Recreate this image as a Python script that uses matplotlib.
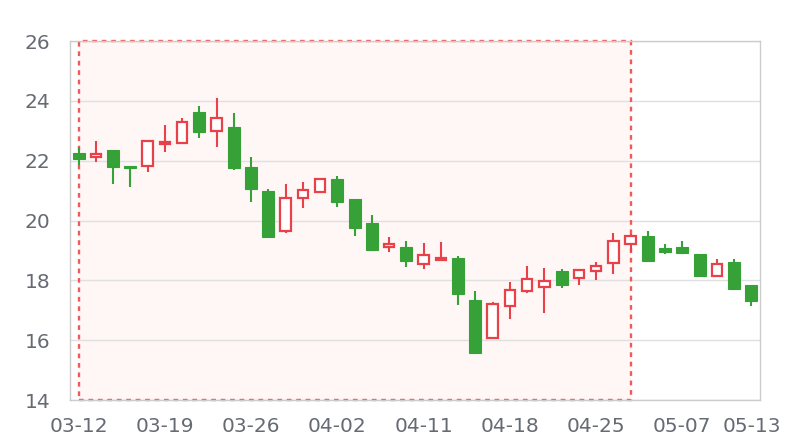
import matplotlib
matplotlib.use('Agg')
import matplotlib.pyplot as plt
from matplotlib.patches import Rectangle

# trading days (MM-DD)
dates = ['03-12', '03-13', '03-14', '03-15', '03-18', '03-19', '03-20', '03-21',
         '03-22', '03-25', '03-26', '03-27', '03-28', '03-29', '04-01', '04-02',
         '04-03', '04-04', '04-08', '04-10', '04-11', '04-12', '04-15', '04-16',
         '04-17', '04-18', '04-19', '04-22', '04-23', '04-24', '04-25', '04-26',
         '04-29', '04-30', '05-06', '05-07', '05-08', '05-09', '05-10', '05-13']

opens = [22.26, 22.13, 22.36, 21.81, 21.82, 22.56, 22.58, 23.62, 23.00, 23.14,
         21.78, 20.99, 19.65, 20.74, 20.94, 21.39, 20.72, 19.91, 19.13, 19.10,
         18.55, 18.69, 18.74, 17.34, 16.06, 17.14, 17.64, 17.79, 18.32, 18.07,
         18.31, 18.57, 19.20, 19.49, 19.09, 19.12, 18.87, 18.16, 18.62, 17.85]
closes = [22.06, 22.21, 21.80, 21.76, 22.66, 22.62, 23.30, 22.95, 23.44, 21.77,
          21.04, 19.46, 20.76, 21.02, 21.38, 20.61, 19.76, 19.02, 19.22, 18.66,
          18.86, 18.73, 17.54, 15.58, 17.20, 17.67, 18.06, 17.98, 17.85, 18.35,
          18.48, 19.33, 19.49, 18.66, 18.94, 18.93, 18.15, 18.54, 17.71, 17.31]
highs = [22.46, 22.67, 22.36, 21.81, 22.66, 23.19, 23.44, 23.84, 24.08, 23.58,
         22.13, 21.04, 21.21, 21.28, 21.41, 21.50, 20.72, 20.18, 19.44, 19.33,
         19.26, 19.27, 18.82, 17.65, 17.29, 17.96, 18.49, 18.42, 18.37, 18.35,
         18.60, 19.57, 19.55, 19.65, 19.20, 19.32, 18.87, 18.70, 18.70, 17.85]
lows = [21.86, 21.97, 21.21, 21.13, 21.63, 22.30, 22.58, 22.77, 22.47, 21.69,
        20.61, 19.46, 19.57, 20.43, 20.91, 20.46, 19.48, 19.02, 18.94, 18.44,
        18.38, 18.68, 17.18, 15.53, 16.03, 16.70, 17.57, 16.92, 17.73, 17.85,
        18.01, 18.21, 18.96, 18.62, 18.88, 18.90, 18.12, 18.16, 17.68, 17.15]

tick_idx = [0, 5, 10, 15, 20, 25, 30, 35, 39]
area_start, area_end = '03-12', '04-29'

up_color = '#e8414a'
down_color = '#36a136'
text_color = '#666a73'

fig = plt.figure(figsize=(8, 4.4), dpi=100)
ax = fig.add_axes([0.0875, 0.0909, 0.8625, 0.8159])

# highlighted area: fill under the grid, dashed border on top
x0 = dates.index(area_start)
x1 = dates.index(area_end)
ax.add_patch(Rectangle((x0, 14), x1 - x0, 12, facecolor='#fff6f6',
                       edgecolor='none', zorder=0.2))
ax.add_patch(Rectangle((x0, 14), x1 - x0, 12, facecolor='none',
                       edgecolor='#f05a5a', linestyle=(0, (2, 2)), linewidth=1.7,
                       zorder=1.5, clip_on=False))

for i in range(len(dates)):
    o, c, h, l = opens[i], closes[i], highs[i], lows[i]
    up = c > o
    col = up_color if up else down_color
    ax.vlines(i, l, h, color=col, linewidth=1.5, zorder=2)
    bottom = min(o, c)
    height = max(abs(c - o), 0.02)
    if up:
        ax.bar(i, height, bottom=bottom, width=0.62, facecolor='white',
               edgecolor=col, linewidth=1.6, zorder=3)
    else:
        ax.bar(i, height, bottom=bottom, width=0.7, facecolor=col,
               edgecolor=col, linewidth=0.8, zorder=3)

ax.set_xlim(-0.5, len(dates) - 0.5)
ax.set_ylim(14, 26)
ax.set_yticks(range(14, 27, 2))
ax.set_xticks(tick_idx)
ax.set_xticklabels([dates[i] for i in tick_idx])
ax.grid(axis='y', color='#e0e0e0', linewidth=1)
ax.set_axisbelow(True)
ax.tick_params(axis='both', length=0, labelsize=14.5, colors=text_color)
ax.tick_params(axis='y', pad=14)
ax.tick_params(axis='x', pad=12)
for s in ax.spines.values():
    s.set_color('#cccccc')
    s.set_linewidth(1)

fig.savefig('out.png', dpi=100)
